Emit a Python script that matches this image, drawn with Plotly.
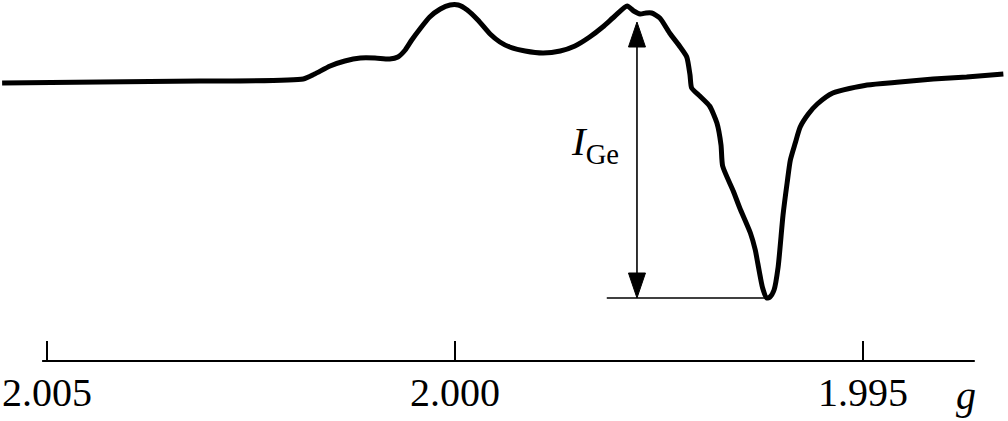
import plotly.graph_objects as go

# EPR spectrum: g-factor (x) and derivative intensity (arbitrary units)
g_values = [2.00555, 2.00435, 2.00313, 2.00186, 2.00172, 2.00153, 2.00135, 2.00116,
            2.00098, 2.00080, 2.00070, 2.00061, 2.00053, 2.00043, 2.00031, 2.00018,
            2.00006, 1.99996, 1.99985, 1.99972, 1.99957, 1.99945, 1.99933, 1.99914,
            1.99892, 1.99871, 1.99853, 1.99835, 1.99819, 1.99804, 1.99789, 1.99781,
            1.99773, 1.99766, 1.99759, 1.99749, 1.99737, 1.99724, 1.99716, 1.99712,
            1.99710, 1.99700, 1.99688, 1.99679, 1.99674, 1.99672, 1.99659, 1.99651,
            1.99638, 1.99632, 1.99629, 1.99623, 1.99618, 1.99614, 1.99609, 1.99604,
            1.99598, 1.99593, 1.99589, 1.99583, 1.99577, 1.99567, 1.99556, 1.99537,
            1.99495, 1.99455, 1.99414, 1.99373, 1.99328]
intensity = [-1, 0, 1, 3, 8, 16, 21, 24,
             24, 23, 25, 32, 42, 53, 65, 73,
             77, 77, 72, 62, 48, 40, 35, 31,
             29, 31, 36, 45, 55, 66, 76, 71,
             68, 69, 69, 64, 49, 35, 25, 7,
             -6, -14, -24, -41, -63, -84, -109, -126,
             -151, -168, -181, -206, -216, -215, -208, -185,
             -133, -101, -78, -61, -45, -32, -22, -11,
             -3, 0, 3, 5, 8]

tick_vals = [2.005, 2.000, 1.995]
tick_text = ["2.005", "2.000", "1.995"]

axis_label = "<i>g</i>"
intensity_label = "<i>I</i><sub>Ge</sub>"

# annotation geometry (g position of the I_Ge arrow, top of arrow)
arrow_g = 1.99777
arrow_top = 60
base_left_g = 1.99814
axis_start_g = 2.00506
axis_end_g = 1.99363

x_range = [2.005576, 1.993223]
y_range = [-279, 82]

FONT = "Liberation Serif"

fig = go.Figure()
fig.add_trace(go.Scatter(x=g_values, y=intensity, mode="lines",
                         line=dict(color="black", width=5, shape="spline", smoothing=0.6),
                         hoverinfo="skip", showlegend=False))

i_min = min(intensity)
g_min = g_values[intensity.index(i_min)]

px_g = (x_range[0] - x_range[1]) / 1008.0  # g per pixel
head_len = 25
head_half = 8.5 * px_g

shapes = []
# x axis line
shapes.append(dict(type="line", xref="x", yref="paper", x0=axis_start_g, x1=axis_end_g,
                   y0=0, y1=0, line=dict(color="black", width=2)))
# baseline at minimum
shapes.append(dict(type="line", xref="x", yref="y", x0=base_left_g, x1=g_min,
                   y0=i_min, y1=i_min, line=dict(color="black", width=1.6)))
# vertical double arrow
shapes.append(dict(type="line", xref="x", yref="y", x0=arrow_g, x1=arrow_g,
                   y0=arrow_top - head_len + 2, y1=i_min + head_len - 2,
                   line=dict(color="black", width=1.6)))
for tip, direction in ((arrow_top, -1), (i_min, 1)):
    base = tip + direction * head_len
    path = (f"M {arrow_g},{tip} L {arrow_g - head_half},{base} "
            f"L {arrow_g + head_half},{base} Z")
    shapes.append(dict(type="path", xref="x", yref="y", path=path,
                       fillcolor="black", line=dict(color="black", width=1)))

fig.update_layout(
    width=1008, height=421,
    margin=dict(l=0, r=0, t=0, b=60),
    paper_bgcolor="white", plot_bgcolor="white",
    shapes=shapes,
    xaxis=dict(range=x_range, showgrid=False, zeroline=False, showline=False,
               ticks="inside", ticklen=20, tickwidth=1.6, tickcolor="black",
               tickvals=tick_vals, ticktext=tick_text, ticklabelstandoff=4,
               tickfont=dict(family=FONT, size=40, color="black")),
    yaxis=dict(range=y_range, visible=False),
    annotations=[
        dict(text=axis_label, x=1.99374, xref="x", y=-0.095, yref="paper",
             showarrow=False, xanchor="center", yanchor="middle",
             font=dict(family=FONT, size=40, color="black")),
        dict(text=intensity_label, x=1.99797, xref="x", y=-62, yref="y",
             showarrow=False, xanchor="right", yanchor="middle",
             font=dict(family=FONT, size=41, color="black")),
    ],
)

fig.write_html("out.html", config={"displayModeBar": False},
               post_script="document.body.style.margin='0';")
